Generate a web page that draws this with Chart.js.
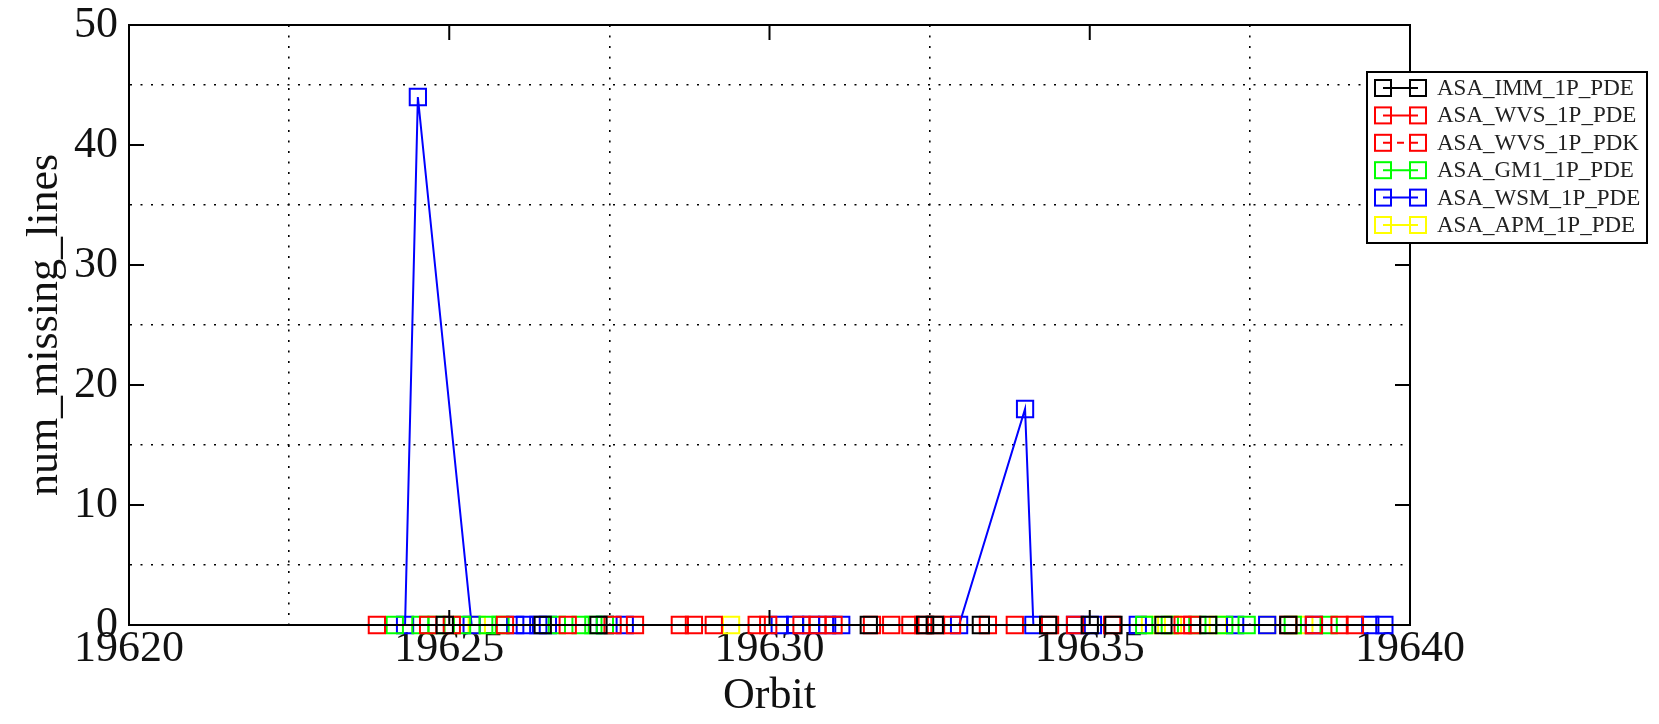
<!DOCTYPE html>
<html>
<head>
<meta charset="utf-8">
<script src="https://cdn.jsdelivr.net/npm/chart.js@4.4.0/dist/chart.umd.min.js"></script>
<style>
  html, body { margin: 0; padding: 0; background: #fff; }
</style>
</head>
<body>
<canvas id="orbitChart" width="1659" height="724"></canvas>
<script>
// x = orbit number, y = num_missing_lines
const immOrbit = [19624.93, 19626.46, 19627.33, 19631.55, 19632.43, 19632.58, 19633.30, 19634.35, 19635.00, 19635.37, 19636.15, 19636.85, 19638.10];
const immLines = [0, 0, 0, 0, 0, 0, 0, 0, 0, 0, 0, 0, 0];

const wvsPdeOrbit = [19623.87, 19624.67, 19625.87, 19626.85, 19627.90, 19628.82, 19629.80, 19630.50, 19631.00, 19631.60, 19632.20, 19632.60, 19633.41, 19634.38, 19635.35, 19636.45, 19638.10, 19638.90];
const wvsPdeLines = [0, 0, 0, 0, 0, 0, 0, 0, 0, 0, 0, 0, 0, 0, 0, 0, 0, 0];

const wvsPdkOrbit = [19625.04, 19627.55, 19628.60, 19629.13, 19629.98, 19630.75, 19631.90, 19632.40, 19632.85, 19633.83, 19634.77, 19636.60, 19638.50, 19639.14];
const wvsPdkLines = [0, 0, 0, 0, 0, 0, 0, 0, 0, 0, 0, 0, 0, 0];

const gm1Orbit = [19624.15, 19624.55, 19624.80, 19625.20, 19625.60, 19625.80, 19626.68, 19627.05, 19627.25, 19627.43, 19635.85, 19636.25, 19636.68, 19637.10, 19637.45, 19638.17, 19638.73];
const gm1Lines = [0, 0, 0, 0, 0, 0, 0, 0, 0, 0, 0, 0, 0, 0, 0, 0, 0];

const wsmOrbit = [19624.31, 19624.51, 19625.35, 19626.03, 19626.18, 19626.39, 19626.54, 19627.43, 19627.74, 19630.16, 19630.40, 19630.65, 19630.90, 19631.12, 19632.96, 19633.99, 19634.12, 19634.77, 19635.05, 19635.75, 19637.27, 19637.77, 19638.50, 19639.38, 19639.60];
const wsmLines = [0, 44, 0, 0, 0, 0, 0, 0, 0, 0, 0, 0, 0, 0, 0, 18, 0, 0, 0, 0, 0, 0, 0, 0, 0];

const apmOrbit = [19625.43, 19629.40, 19635.94, 19636.30, 19637.00, 19637.77, 19638.35];
const apmLines = [0, 0, 0, 0, 0, 0, 0];

const seriesNames = ['ASA_IMM_1P_PDE', 'ASA_WVS_1P_PDE', 'ASA_WVS_1P_PDK', 'ASA_GM1_1P_PDE', 'ASA_WSM_1P_PDE', 'ASA_APM_1P_PDE'];
const seriesColors = ['#000000', '#ff0000', '#ff0000', '#00ff00', '#0000ff', '#ffff00'];
const seriesDash = [[], [], [7, 7], [], [], []];

const xMin = 19620, xMax = 19640, xMajor = 5, xMinor = 2.5;
const yMin = 0, yMax = 50, yMajor = 10, yMinor = 5;

const serif = '"Liberation Serif", "DejaVu Serif", serif';

function toPoints(xs, ys) {
  return xs.map((x, i) => ({ x: x, y: ys[i] }));
}

const allSeries = [
  [immOrbit, immLines],
  [wvsPdeOrbit, wvsPdeLines],
  [wvsPdkOrbit, wvsPdkLines],
  [gm1Orbit, gm1Lines],
  [wsmOrbit, wsmLines],
  [apmOrbit, apmLines],
];

const datasets = allSeries.map((s, i) => ({
  label: seriesNames[i],
  data: toPoints(s[0], s[1]),
  borderColor: seriesColors[i],
  borderWidth: 2,
  borderDash: seriesDash[i],
  pointStyle: 'rect',
  pointRadius: 11.5,
  pointBorderWidth: 2,
  pointBorderColor: seriesColors[i],
  pointBackgroundColor: 'rgba(0,0,0,0)',
  tension: 0,
  clip: false,
}));

// dotted grid only on the half-way (minor) positions
const isMinor = (v, major, minor) => Math.abs(((v % major) + major) % major - minor) < 1e-6;

// frame, inward major ticks, legend box
const framePlugin = {
  id: 'frame',
  afterDatasetsDraw(chart) {
    const { ctx, chartArea: a, scales } = chart;
    ctx.save();
    ctx.strokeStyle = '#000';
    ctx.lineWidth = 2;
    ctx.setLineDash([]);
    ctx.strokeRect(a.left, a.top, a.right - a.left, a.bottom - a.top);
    const len = 15;
    ctx.beginPath();
    for (let v = xMin + xMajor; v < xMax; v += xMajor) {
      const px = scales.x.getPixelForValue(v);
      ctx.moveTo(px, a.bottom); ctx.lineTo(px, a.bottom - len);
      ctx.moveTo(px, a.top); ctx.lineTo(px, a.top + len);
    }
    for (let v = yMin + yMajor; v < yMax; v += yMajor) {
      const py = scales.y.getPixelForValue(v);
      ctx.moveTo(a.left, py); ctx.lineTo(a.left + len, py);
      ctx.moveTo(a.right, py); ctx.lineTo(a.right - len, py);
    }
    ctx.stroke();
    ctx.restore();
  },
  afterDraw(chart) {
    const ctx = chart.ctx;
    const box = { left: 1367, top: 72, width: 280, height: 171 };
    ctx.save();
    ctx.fillStyle = '#fff';
    ctx.fillRect(box.left, box.top, box.width, box.height);
    ctx.strokeStyle = '#000';
    ctx.lineWidth = 2;
    ctx.strokeRect(box.left, box.top, box.width, box.height);
    ctx.font = '23px ' + serif;
    ctx.textBaseline = 'middle';
    chart.data.datasets.forEach((ds, i) => {
      const y = 88 + i * 27.4;
      ctx.strokeStyle = ds.borderColor;
      ctx.lineWidth = 2;
      ctx.setLineDash(ds.borderDash);
      ctx.beginPath();
      ctx.moveTo(1383, y); ctx.lineTo(1418, y);
      ctx.stroke();
      ctx.setLineDash([]);
      ctx.strokeRect(1375, y - 8, 16, 16);
      ctx.strokeRect(1410, y - 8, 16, 16);
      ctx.fillStyle = '#222';
      ctx.fillText(ds.label, 1437, y + 1);
    });
    ctx.restore();
  }
};

new Chart(document.getElementById('orbitChart'), {
  type: 'line',
  data: { datasets: datasets },
  options: {
    responsive: false,
    animation: false,
    layout: { padding: { top: 25, right: 249, left: 0, bottom: 0 } },
    scales: {
      x: {
        type: 'linear',
        min: xMin,
        max: xMax,
        afterFit: s => { s.height = 99; s.paddingLeft = 0; s.paddingRight = 0; },
        border: { display: true, color: '#000', width: 2, dash: [2, 8.5] },
        grid: {
          drawTicks: false,
          lineWidth: 1.6,
          color: c => (c.tick && isMinor(c.tick.value, xMajor, xMinor)) ? '#000' : 'rgba(0,0,0,0)',
        },
        ticks: {
          stepSize: xMinor,
          autoSkip: false,
          maxRotation: 0,
          padding: 2,
          color: '#111',
          font: { family: serif, size: 44, lineHeight: 1 },
          callback: v => (Math.abs(v % xMajor) < 1e-6 ? String(v) : ''),
        },
        title: {
          display: true,
          text: 'Orbit',
          color: '#111',
          font: { family: serif, size: 44, lineHeight: 1 },
          padding: { top: 0, bottom: 6 },
        },
      },
      y: {
        min: yMin,
        max: yMax,
        afterFit: s => { s.width = 129; s.paddingTop = 0; s.paddingBottom = 0; },
        border: { display: true, color: '#000', width: 2, dash: [2, 8.5] },
        grid: {
          drawTicks: false,
          lineWidth: 1.6,
          color: c => (c.tick && isMinor(c.tick.value, yMajor, yMinor)) ? '#000' : 'rgba(0,0,0,0)',
        },
        ticks: {
          stepSize: yMinor,
          autoSkip: false,
          padding: 11,
          color: '#111',
          font: { family: serif, size: 44, lineHeight: 1 },
          callback: v => (v % yMajor === 0 ? String(v) : ''),
        },
        title: {
          display: true,
          text: 'num_missing_lines',
          color: '#111',
          font: { family: serif, size: 44, lineHeight: 1 },
          padding: { top: 23, bottom: 0 },
        },
      },
    },
    plugins: {
      legend: { display: false },
      tooltip: { enabled: false },
    },
  },
  plugins: [framePlugin],
});
</script>
</body>
</html>
